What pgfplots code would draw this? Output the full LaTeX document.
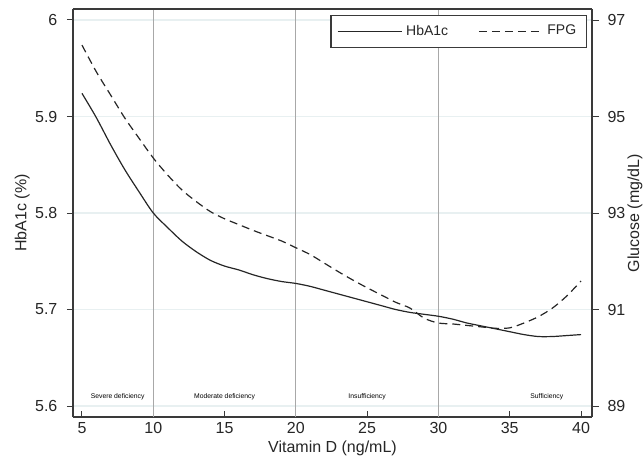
\documentclass[border=0pt]{standalone}
\usepackage{fontspec}
\setmainfont{Liberation Sans}
\usepackage{pgfplots}
\pgfplotsset{compat=1.18}
\usepackage{xcolor}
\definecolor{axgray}{HTML}{3A3A3A}
\definecolor{gridc}{RGB}{232,240,241}
\definecolor{vline}{HTML}{A8A8A8}

\pgfplotstableread{
x hba1c
5 5.924
6 5.899
7 5.871
8 5.845
9 5.822
10 5.800
11 5.785
12 5.771
13 5.760
14 5.751
15 5.745
16 5.741
17 5.736
18 5.732
19 5.729
20 5.727
21 5.724
22 5.720
23 5.716
24 5.712
25 5.708
26 5.704
27 5.700
28 5.697
29 5.695
30 5.693
31 5.690
32 5.686
33 5.683
34 5.680
35 5.677
36 5.674
37 5.672
38 5.672
39 5.673
40 5.674
}\hba

\pgfplotstableread{
x fpg
5 96.48
6 95.93
7 95.45
8 94.97
9 94.55
10 94.14
11 93.79
12 93.48
13 93.24
14 93.03
15 92.88
16 92.76
17 92.64
18 92.53
19 92.42
20 92.28
21 92.14
22 91.96
23 91.78
24 91.61
25 91.45
26 91.30
27 91.15
28 91.03
29 90.82
30 90.72
31 90.70
32 90.67
33 90.64
34 90.61
35 90.62
36 90.72
37 90.85
38 91.03
39 91.28
40 91.59
}\fpg

\pgfplotsset{
  base/.style={
    scale only axis, width=259.5pt, height=204pt,
    xmin=4.37, xmax=40.77,
    axis line style={axgray, line width=0.6pt},
    tick style={axgray, line width=0.5pt},
    tick label style={font=\fontsize{8}{9}\selectfont, text=black!85},
    label style={font=\fontsize{8}{9}\selectfont, text=black!85},
    /pgf/number format/assume math mode=true,
  },
}

\begin{document}
\begin{tikzpicture}
\begin{axis}[base,
  ymin=5.5886, ymax=6.0114,
  ytick={5.6,5.7,5.8,5.9,6}, yticklabels={5.6,5.7,5.8,5.9,6},
  xtick={5,10,...,40},
  axis y line*=left, axis x line*=box,
  xtick pos=bottom,
  x tick style={/pgfplots/major tick length=3pt},
  y tick style={/pgfplots/major tick length=3pt},
  xtick align=inside, ytick align=outside,
  xticklabel style={yshift=1pt},
  ymajorgrids, major grid style={gridc, line width=0.6pt},
  xlabel={Vitamin D (ng/mL)}, ylabel={HbA1c (\%)},
  xlabel style={at={(axis description cs:0.5,-0.076)}, anchor=center},
  ylabel style={at={(axis description cs:-0.098,0.5)}, anchor=center, rotate=0},
  clip=false,
]
\draw[vline, line width=0.6pt] (axis cs:10,5.5886) -- (axis cs:10,6.0114);
\draw[vline, line width=0.6pt] (axis cs:20,5.5886) -- (axis cs:20,6.0114);
\draw[vline, line width=0.6pt] (axis cs:30,5.5886) -- (axis cs:30,6.0114);
\addplot[black!85, line width=0.6pt, smooth] table[x=x, y=hba1c] {\hba};
\node[font=\fontsize{3.4}{4}\selectfont] at (axis cs:7.5,5.6096) {Severe deficiency};
\node[font=\fontsize{3.4}{4}\selectfont] at (axis cs:15,5.6096) {Moderate deficiency};
\node[font=\fontsize{3.4}{4}\selectfont] at (axis cs:25,5.6096) {Insufficiency};
\node[font=\fontsize{3.4}{4}\selectfont] at (axis cs:37.6,5.6096) {Sufficiency};
\draw[axgray, line width=0.6pt] (rel axis cs:0,1) -- (rel axis cs:1,1);
\end{axis}
\begin{axis}[base,
  ymin=88.772, ymax=97.228,
  ytick={89,91,93,95,97},
  axis y line*=right, axis x line=none,
  y tick style={/pgfplots/major tick length=3.5pt},
  ytick align=outside,
  ylabel={Glucose (mg/dL)},
  ylabel style={at={(axis description cs:1.083,0.5)}, anchor=center},
  legend columns=2,
  legend style={at={(0.99,0.985)}, anchor=north east,
    draw=axgray, line width=0.6pt, inner xsep=3pt, inner ysep=2.6pt,
    font=\fontsize{7}{8}\selectfont, text=black!85,
    /tikz/every even column/.append style={column sep=13pt}},
  legend image code/.code={\draw[#1] (0pt,0pt) -- (32pt,0pt);},
]
\addlegendimage{black!85, line width=0.6pt}
\addlegendentry{HbA1c}
\addplot[black!85, line width=0.6pt, smooth, dash pattern=on 4pt off 2.5pt] table[x=x, y=fpg] {\fpg};
\addlegendentry{FPG}
\end{axis}
\pgfresetboundingbox
\path[use as bounding box] (-36.5pt,-19.5pt) rectangle (285pt,208.5pt);
\end{tikzpicture}
\end{document}
